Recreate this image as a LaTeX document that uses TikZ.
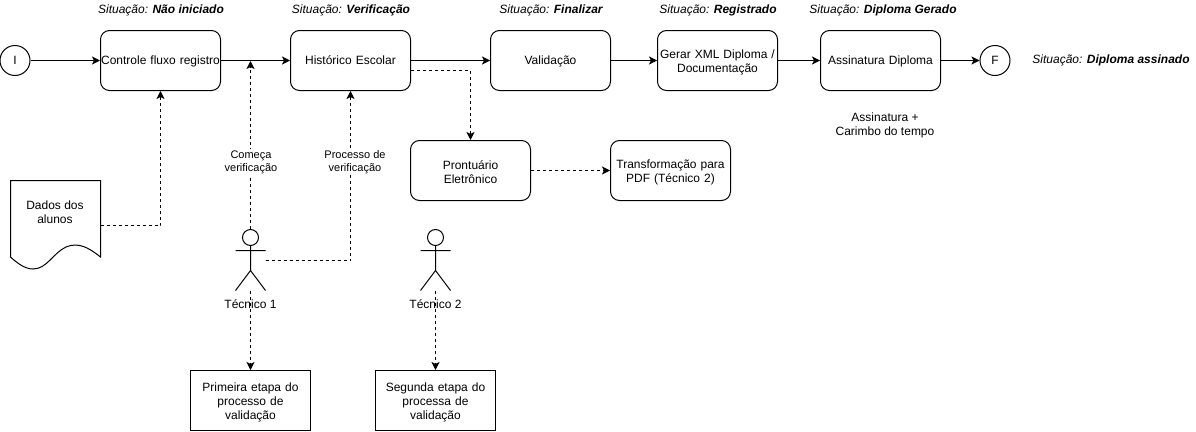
\documentclass[tikz,border=0pt]{standalone}
\usepackage{fontspec}
\setmainfont{Liberation Sans}
\usetikzlibrary{arrows.meta}
\tikzset{
  ln/.style={line width=1pt,draw=black},
  flow/.style={ln,-{Stealth[length=8pt,width=8pt,inset=2pt]}},
  dflow/.style={flow,dash pattern=on 3pt off 3pt},
  rbox/.style={ln,rounded corners=9pt,minimum width=120pt,minimum height=60pt,inner sep=0pt,align=center,text width=120pt,font=\fontsize{12}{14}\selectfont,execute at end node={\par\vspace*{-3pt}}},
  sbox/.style={ln,minimum width=120pt,minimum height=60pt,inner sep=0pt,align=center,text width=116pt,font=\fontsize{12}{14}\selectfont,execute at end node={\par\vspace*{-3pt}}},
  term/.style={ln,circle,minimum size=30pt,inner sep=0pt,font=\fontsize{12}{14}\selectfont},
  txt/.style={inner sep=0pt,align=center,font=\fontsize{12}{14}\selectfont},
  sit/.style={inner sep=0pt,font=\fontsize{12}{14}\selectfont\itshape},
  lbl/.style={txt,fill=white,inner sep=1pt,font=\fontsize{11}{13}\selectfont},
  head/.style={ln,circle,minimum size=16pt,inner sep=0pt}
}
\begin{document}
\begin{tikzpicture}[x=1pt,y=-1pt]
\useasboundingbox (0,0) rectangle (1196,431);
\node[term] (start) at (15,60.5) {I};
\node[rbox] (ctrl) at (160.5,60.5) {Controle fluxo registro};
\node[rbox] (hist) at (350.5,60.5) {Histórico Escolar};
\node[rbox] (valid) at (550.5,60.5) {Validação};
\node[rbox] (xml) at (717.5,60.5) {Gerar XML Diploma /\\Documentação};
\node[rbox] (sign) at (880.5,60.5) {Assinatura Diploma};
\node[term] (end) at (995,60.5) {F};
\node[rbox] (pront) at (470.5,170.5) {Prontuário\\Eletrônico};
\node[rbox] (pdf) at (670.5,170.5) {Transformação para\\PDF (Técnico 2)};
\node[sbox] (et1) at (250.5,400.5) {Primeira etapa do\\processo de\\validação};
\node[sbox] (et2) at (435.5,400.5) {Segunda etapa do\\processa de\\validação};

\node[sit] (s1) at (161,10.5) {Situação: \textbf{Não iniciado}};
\node[sit] (s2) at (351,10.5) {Situação: \textbf{Verificação}};
\node[sit] (s3) at (551,10.5) {Situação: \textbf{Finalizar}};
\node[sit] (s4) at (718,10.5) {Situação: \textbf{Registrado}};
\node[sit] (s5) at (883,10.5) {Situação: \textbf{Diploma Gerado}};
\node[sit] (s6) at (1111,60.5) {Situação: \textbf{Diploma assinado}};
\node[txt] (carimbo) at (885,125.5) {Assinatura +\\Carimbo do tempo};

% document shape
\draw[ln] (10.5,180.5) -- (100.5,180.5) -- (100.5,257)
  .. controls (88,247) and (78,242) .. (66,247)
  .. controls (53,253) and (47,269) .. (33,269)
  .. controls (25,269) and (17,263) .. (10.5,257) -- cycle;
\node[txt] (dados) at (55,212.5) {Dados dos\\alunos};
\coordinate (docR) at (100.5,225.5);

% actors
\node[head] (a1) at (250.5,237.5) {};
\coordinate (a1hip) at (250.5,270.5);
\coordinate (a1la) at (235.5,250.5);
\coordinate (a1ra) at (265.5,250.5);
\coordinate (a1ll) at (235.5,290.5);
\coordinate (a1rl) at (265.5,290.5);
\coordinate (a1foot) at (250.5,290.5);
\coordinate (a1side) at (265.5,260.5);
\draw[ln] (a1) -- (a1hip) -- (a1ll) (a1hip) -- (a1rl) (a1la) -- (a1ra);
\node[txt] (t1) at (250.5,304.5) {Técnico 1};

\node[head] (a2) at (435.5,237.5) {};
\coordinate (a2hip) at (435.5,270.5);
\coordinate (a2la) at (420.5,250.5);
\coordinate (a2ra) at (450.5,250.5);
\coordinate (a2ll) at (420.5,290.5);
\coordinate (a2rl) at (450.5,290.5);
\coordinate (a2foot) at (435.5,290.5);
\draw[ln] (a2) -- (a2hip) -- (a2ll) (a2hip) -- (a2rl) (a2la) -- (a2ra);
\node[txt] (t2) at (435.5,304.5) {Técnico 2};

% main flow
\draw[flow] (start) -- (ctrl);
\draw[flow] (ctrl) -- (hist);
\draw[flow] (hist) -- (valid);
\draw[flow] (valid) -- (xml);
\draw[flow] (xml) -- (sign);
\draw[flow] (sign) -- (end);

% dashed
\coordinate (onflow) at (250.5,61);
\draw[dflow] (docR) -| (ctrl.south);
\draw[dflow] (a1) -- (onflow);
\node[lbl] (l1) at (251,162) {Começa\\verificação};
\draw[dflow] (a1side) -| (hist.south);
\node[lbl] (l2) at (355,162) {Processo de\\verificação};
\draw[dflow] ([yshift=-10pt]hist.east) -| (pront.north);
\draw[dflow] (pront) -- (pdf);
\draw[dflow] (a1foot) -- (et1);
\draw[dflow] (a2foot) -- (et2);
\end{tikzpicture}
\end{document}
